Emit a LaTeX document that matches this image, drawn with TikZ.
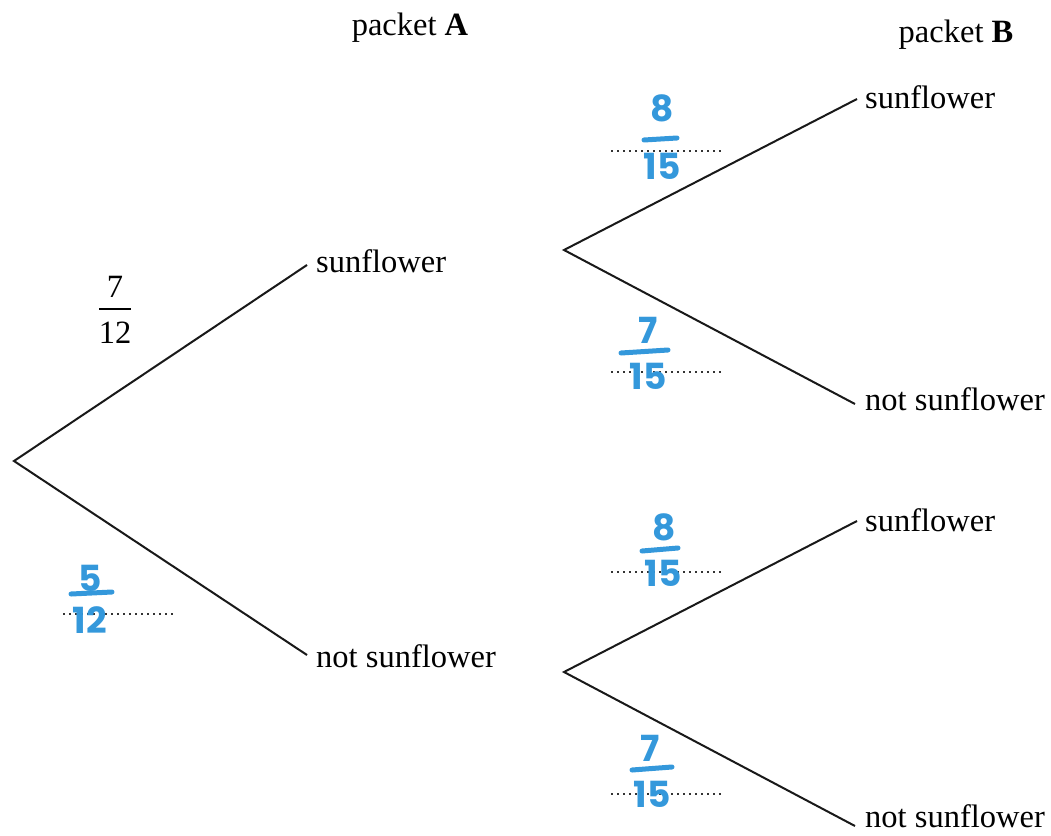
\documentclass[tikz,border=0pt]{standalone}
\usepackage{fontspec}
\setmainfont{Liberation Serif}
\newfontfamily\handfont{Poppins}
\definecolor{hblue}{HTML}{3498DB}
\begin{document}
\begin{tikzpicture}[x=1pt,y=-1pt,
  txt/.style={font=\fontsize{32.5}{39}\selectfont, inner sep=0pt},
  lbl/.style={txt, anchor=west},
  branch/.style={line width=2pt, black!90},
  fracbar/.style={line width=1.6pt, black},
  answer/.style={draw=black!80, line width=2pt, dash pattern=on 1.6pt off 4.4pt},
  hand/.style={text=hblue, font=\handfont\bfseries\fontsize{36}{36}\selectfont, inner sep=0pt},
  hbar/.style={draw=hblue, line width=5pt, line cap=round}]
\useasboundingbox (0,0) rectangle (1051,835);

% headings
\node[txt] (hA) at (410,28) {packet \textbf{A}};
\node[txt] (hB) at (956,35) {packet \textbf{B}};

% forks
\coordinate (root) at (14,461);
\coordinate (f1) at (564,250);
\coordinate (f2) at (564,672);

% outcomes
\node[lbl] (a1) at (316,261) {sunflower};
\node[lbl] (a2) at (316,656) {not sunflower};
\node[lbl] (b11) at (865,97) {sunflower};
\node[lbl] (b12) at (865,399) {not sunflower};
\node[lbl] (b21) at (865,520) {sunflower};
\node[lbl] (b22) at (865,816) {not sunflower};

% branch ends
\coordinate (e1) at (307,265);
\coordinate (e2) at (307,655);
\coordinate (e11) at (857,99);
\coordinate (e12) at (855,404);
\coordinate (e21) at (857,521);
\coordinate (e22) at (855,826);

\draw[branch] (e1) -- (root) -- (e2);
\draw[branch] (e11) -- (f1) -- (e12);
\draw[branch] (e21) -- (f2) -- (e22);

% given probability
\node[txt] (p0n) at (115,287) {7};
\coordinate (p0a) at (99,309); \coordinate (p0b) at (131,309);
\draw[fracbar] (p0a) -- (p0b);
\node[txt] (p0d) at (115,333) {12};

% answer lines
\coordinate (d1a) at (611,151); \coordinate (d1b) at (722,151);
\coordinate (d2a) at (611,372); \coordinate (d2b) at (722,372);
\coordinate (d3a) at (63,614);  \coordinate (d3b) at (175,614);
\coordinate (d4a) at (611,572); \coordinate (d4b) at (723,572);
\coordinate (d5a) at (611,794); \coordinate (d5b) at (723,794);
\draw[answer] (d1a) -- (d1b);
\draw[answer] (d2a) -- (d2b);
\draw[answer] (d3a) -- (d3b);
\draw[answer] (d4a) -- (d4b);
\draw[answer] (d5a) -- (d5b);

% written answers
\node[hand] (n1) at (662,108) {8};
\coordinate (s1a) at (644,140); \coordinate (s1b) at (677,138);
\draw[hbar] (s1a) -- (s1b);
\node[hand] (m1) at (662,166) {15};

\node[hand] (n2) at (648,330) {7};
\coordinate (s2a) at (621,353); \coordinate (s2b) at (668,350);
\draw[hbar] (s2a) -- (s2b);
\node[hand] (m2) at (648,376) {15};

\node[hand] (n3) at (90,578) {5};
\coordinate (s3a) at (71,594); \coordinate (s3b) at (112,592);
\draw[hbar] (s3a) -- (s3b);
\node[hand] (m3) at (90,620) {12};

\node[hand] (n4) at (664,527) {8};
\coordinate (s4a) at (642,551); \coordinate (s4b) at (678,548);
\draw[hbar] (s4a) -- (s4b);
\node[hand] (m4) at (663,573) {15};

\node[hand] (n5) at (650,748) {7};
\coordinate (s5a) at (632,770); \coordinate (s5b) at (672,767);
\draw[hbar] (s5a) -- (s5b);
\node[hand] (m5) at (652,794) {15};
\end{tikzpicture}
\end{document}
